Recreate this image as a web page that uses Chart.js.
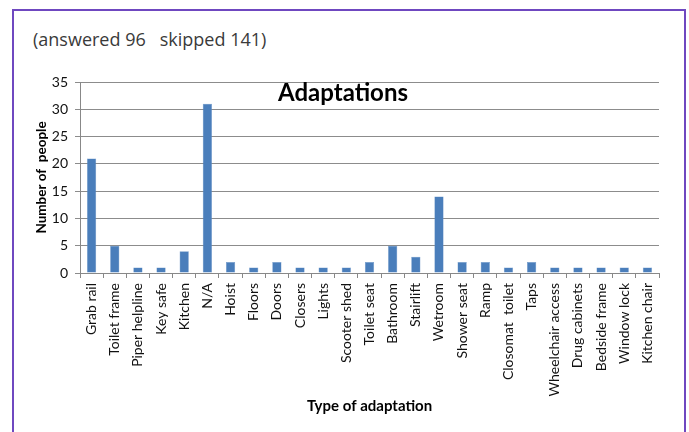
<!DOCTYPE html>
<html lang="en">
<head>
<meta charset="UTF-8" />
<title>Adaptations</title>
<script src="https://cdn.jsdelivr.net/npm/chart.js@4.4.0/dist/chart.umd.min.js"></script>
<style>
    body {
        margin: 0;
        background: #fff;
        width: 689px;
        height: 432px;
        position: relative;
        overflow: hidden;
    }

    .frame {
        position: absolute;
        left: 12px;
        top: 9px;
        width: 670px;
        height: 440px;
        border: 2px solid #6f48c0;
        border-bottom: none;
    }

    .note {
        position: absolute;
        left: 33px;
        top: 27px;
        font: 18px "Open Sans", sans-serif;
        color: #3a3a3a;
        white-space: pre;
    }

    #chart {
        position: absolute;
        left: 0;
        top: 0;
    }
</style>
</head>
<body>
<div class="frame"></div>
<div class="note">(answered 96   skipped 141)</div>
<canvas id="chart" width="689" height="432"></canvas>

<script>
    // data
    const categories = ["Grab rail", "Toilet frame", "Piper helpline", "Key safe", "Kitchen", "N/A", "Hoist", "Floors", "Doors", "Closers", "Lights", "Scooter shed", "Toilet seat", "Bathroom", "Stairlift", "Wetroom", "Shower seat", "Ramp", "Closomat  toilet", "Taps", "Wheelchair access", "Drug cabinets", "Bedside frame", "Window lock", "Kitchen chair"];
    const people = [21, 5, 1, 1, 4, 31, 2, 1, 2, 1, 1, 1, 2, 5, 3, 14, 2, 2, 1, 2, 1, 1, 1, 1, 1];
    const yTicks = [0, 5, 10, 15, 20, 25, 30, 35];

    const font = "Lato, 'Open Sans', sans-serif";

    // big title sits inside the plot area, like the original
    const innerTitle = {
        id: 'innerTitle',
        afterDraw(chart) {
            const { ctx, chartArea } = chart;
            ctx.save();
            ctx.font = "bold 24px " + font;
            ctx.fillStyle = '#000';
            ctx.textAlign = 'center';
            ctx.textBaseline = 'alphabetic';
            ctx.fillText('Adaptations', 343, chartArea.top + 19);
            ctx.restore();
        }
    };

    new Chart(document.getElementById('chart'), {
        type: 'bar',
        data: {
            labels: categories,
            datasets: [{
                data: people,
                backgroundColor: '#4a7ebb',
                borderColor: '#6d97c9',
                borderWidth: 0.5,
                barPercentage: 0.4,
                categoryPercentage: 1
            }]
        },
        options: {
            responsive: false,
            animation: false,
            layout: { padding: { left: 20, top: 82, right: 30, bottom: 10 } },
            plugins: { legend: { display: false }, tooltip: { enabled: false } },
            scales: {
                x: {
                    afterFit: s => { s.height = 149; },
                    grid: { offset: true, drawOnChartArea: false, drawTicks: true, tickLength: 5, color: '#888' },
                    border: { display: true, color: '#888' },
                    ticks: {
                        autoSkip: false, minRotation: 90, maxRotation: 90, padding: 5,
                        color: '#111', font: { family: font, size: 14 }
                    },
                    title: {
                        display: true, text: 'Type of adaptation', color: '#000', align: 'center',
                        font: { family: font, size: 15, weight: 'bold' }, padding: { top: 0, bottom: 7 }
                    }
                },
                y: {
                    min: 0, max: 35,
                    afterFit: s => { s.width = 60; },
                    afterBuildTicks: s => { s.ticks = yTicks.map(v => ({ value: v })); },
                    grid: { color: '#8c8c8c', tickLength: 5 },
                    border: { display: true, color: '#888' },
                    ticks: { padding: 7, color: '#111', font: { family: font, size: 14 } },
                    title: {
                        display: true, text: 'Number of  people', color: '#000',
                        font: { family: font, size: 13.5, weight: 'bold' }, padding: { top: 14, bottom: 0 }
                    }
                }
            }
        },
        plugins: [innerTitle]
    });
</script>
</body>
</html>
